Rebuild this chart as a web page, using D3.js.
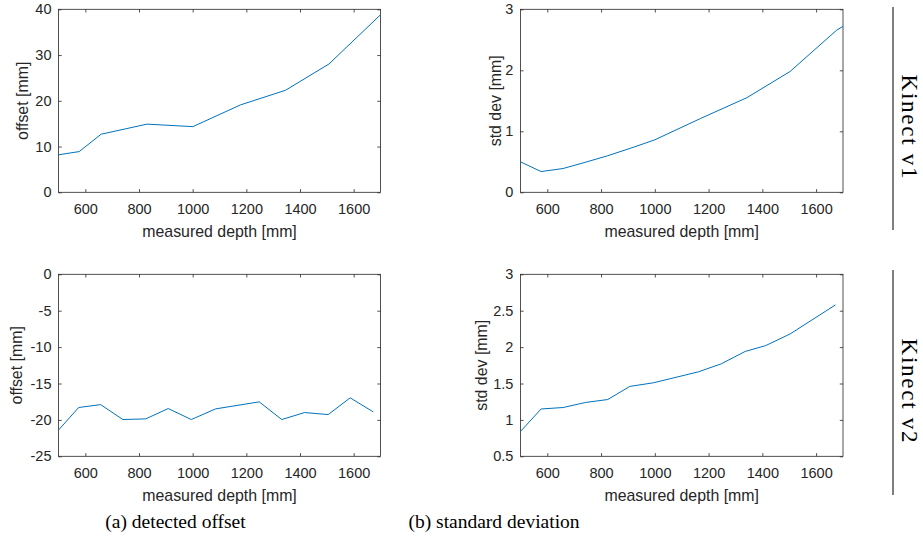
<!DOCTYPE html>
<html lang="en">
<head>
<meta charset="UTF-8">
<title>Kinect depth offset and std dev</title>
<script src="https://cdn.jsdelivr.net/npm/d3@7/dist/d3.min.js"></script>
<style>
body { margin: 0; background: #fff; }
svg { display: block; }
.tick text { font-family: "Liberation Sans", Arial, sans-serif; font-size: 14.5px; fill: #262626; }
.tick line { stroke: #262626; stroke-width: 0.8; }
.domain { display: none; }
.lab { font-family: "Liberation Sans", Arial, sans-serif; font-size: 15.9px; fill: #262626; }
.cap { font-family: "Liberation Serif", "DejaVu Serif", serif; fill: #000; }
</style>
</head>
<body>
<svg width="923" height="541"></svg>
<script>
// data
var xTicks = [600, 800, 1000, 1200, 1400, 1600];

var v1OffDepth = [500, 577, 659, 830, 1001, 1178, 1346, 1508, 1700];
var v1Off = [8.2, 8.9, 12.7, 14.9, 14.35, 19.1, 22.3, 28.05, 38.8];

var v1StdDepth = [500, 577, 659, 740, 825, 908, 1000, 1170, 1342, 1503, 1677, 1700];
var v1Std = [0.50, 0.34, 0.39, 0.49, 0.60, 0.72, 0.86, 1.21, 1.55, 1.98, 2.66, 2.72];

var v2OffDepth = [500, 575, 657, 740, 825, 909, 995, 1085, 1248, 1332, 1417, 1505, 1587, 1673];
var v2Off = [-21.4, -18.3, -17.9, -19.95, -19.86, -18.44, -19.95, -18.49, -17.52, -19.95, -18.99, -19.27, -16.97, -18.9];

var v2StdDepth = [500, 577, 659, 743, 825, 907, 995, 1162, 1247, 1336, 1412, 1503, 1672];
var v2Std = [0.84, 1.15, 1.17, 1.24, 1.28, 1.46, 1.51, 1.66, 1.77, 1.94, 2.02, 2.18, 2.58];

var offTicksV1 = [0, 10, 20, 30, 40];
var stdTicksV1 = [0, 1, 2, 3];
var offTicksV2 = [-25, -20, -15, -10, -5, 0];
var stdTicksV2 = [0.5, 1, 1.5, 2, 2.5, 3];

var svg = d3.select('svg');
var tk = 3.2;

function panel(o) {
    var w = o.right - o.left, h = o.bottom - o.top;
    var x = d3.scaleLinear().domain([500, 1700]).range([0, w]);
    var y = d3.scaleLinear().domain(o.yDom).range([h, 0]);
    var g = svg.append('g').attr('transform', 'translate(' + o.left + ',' + o.top + ')');

    g.append('defs').append('clipPath').attr('id', o.id)
        .append('rect').attr('width', w).attr('height', h);

    g.append('g').attr('transform', 'translate(0,' + h + ')')
        .call(d3.axisBottom(x).tickValues(xTicks).tickSize(-tk).tickPadding(11.5).tickFormat(d3.format('d')));
    g.append('g')
        .call(d3.axisTop(x).tickValues(xTicks).tickSize(-tk).tickFormat(''));
    g.append('g')
        .call(d3.axisLeft(y).tickValues(o.yTicks).tickSize(-tk).tickPadding(7).tickFormat(function(d) { return String(d); }));
    g.append('g').attr('transform', 'translate(' + w + ',0)')
        .call(d3.axisRight(y).tickValues(o.yTicks).tickSize(-tk).tickFormat(''));

    g.append('rect').attr('width', w).attr('height', h)
        .attr('fill', 'none').attr('stroke', '#262626').attr('stroke-width', 0.8);

    var pts = o.xs.map(function(d, i) { return [d, o.ys[i]]; });
    g.append('path').datum(pts)
        .attr('clip-path', 'url(#' + o.id + ')')
        .attr('fill', 'none').attr('stroke', '#0072BD').attr('stroke-width', 1)
        .attr('d', d3.line().x(function(d) { return x(d[0]); }).y(function(d) { return y(d[1]); }));

    svg.append('text').attr('class', 'lab')
        .attr('x', (o.left + o.right) / 2).attr('y', o.bottom + 44.7)
        .attr('text-anchor', 'middle').text('measured depth [mm]');
    svg.append('text').attr('class', 'lab')
        .attr('transform', 'translate(' + (o.ylabX + 5.5) + ',' + ((o.top + o.bottom) / 2) + ') rotate(-90)')
        .attr('text-anchor', 'middle').text(o.yLabel);
}

panel({ id: 'c1', left: 58.5, right: 380.5, top: 9.3, bottom: 192.3, yDom: [0, 40], yTicks: offTicksV1,
        xs: v1OffDepth, ys: v1Off, yLabel: 'offset [mm]', ylabX: 22 });
panel({ id: 'c2', left: 520.4, right: 843, top: 9.3, bottom: 192.3, yDom: [0, 3], yTicks: stdTicksV1,
        xs: v1StdDepth, ys: v1Std, yLabel: 'std dev [mm]', ylabX: 495 });
panel({ id: 'c3', left: 58.5, right: 380.5, top: 274.3, bottom: 456.3, yDom: [-25, 0], yTicks: offTicksV2,
        xs: v2OffDepth, ys: v2Off, yLabel: 'offset [mm]', ylabX: 16.7 });
panel({ id: 'c4', left: 520.4, right: 843, top: 274.3, bottom: 456.3, yDom: [0.5, 3], yTicks: stdTicksV2,
        xs: v2StdDepth, ys: v2Std, yLabel: 'std dev [mm]', ylabX: 481.7 });

// captions
svg.append('text').attr('class', 'cap').attr('x', 175.5).attr('y', 528)
    .attr('text-anchor', 'middle').style('font-size', '19.5px').text('(a) detected offset');
svg.append('text').attr('class', 'cap').attr('x', 494).attr('y', 528)
    .attr('text-anchor', 'middle').style('font-size', '19.5px').text('(b) standard deviation');

// row labels on the right
var rows = [{ t: 'Kinect v1', y0: 7, y1: 230 }, { t: 'Kinect v2', y0: 270, y1: 495 }];
rows.forEach(function(r) {
    svg.append('line').attr('x1', 893).attr('x2', 893).attr('y1', r.y0).attr('y2', r.y1)
        .attr('stroke', '#000').attr('stroke-width', 1);
    var cy = (r.y0 + r.y1) / 2 + 8;
    svg.append('text').attr('class', 'cap')
        .attr('transform', 'translate(902,' + cy + ') rotate(90)')
        .attr('text-anchor', 'middle').attr('textLength', 104).attr('lengthAdjust', 'spacing')
        .style('font-size', '23px').text(r.t);
});
</script>
</body>
</html>
